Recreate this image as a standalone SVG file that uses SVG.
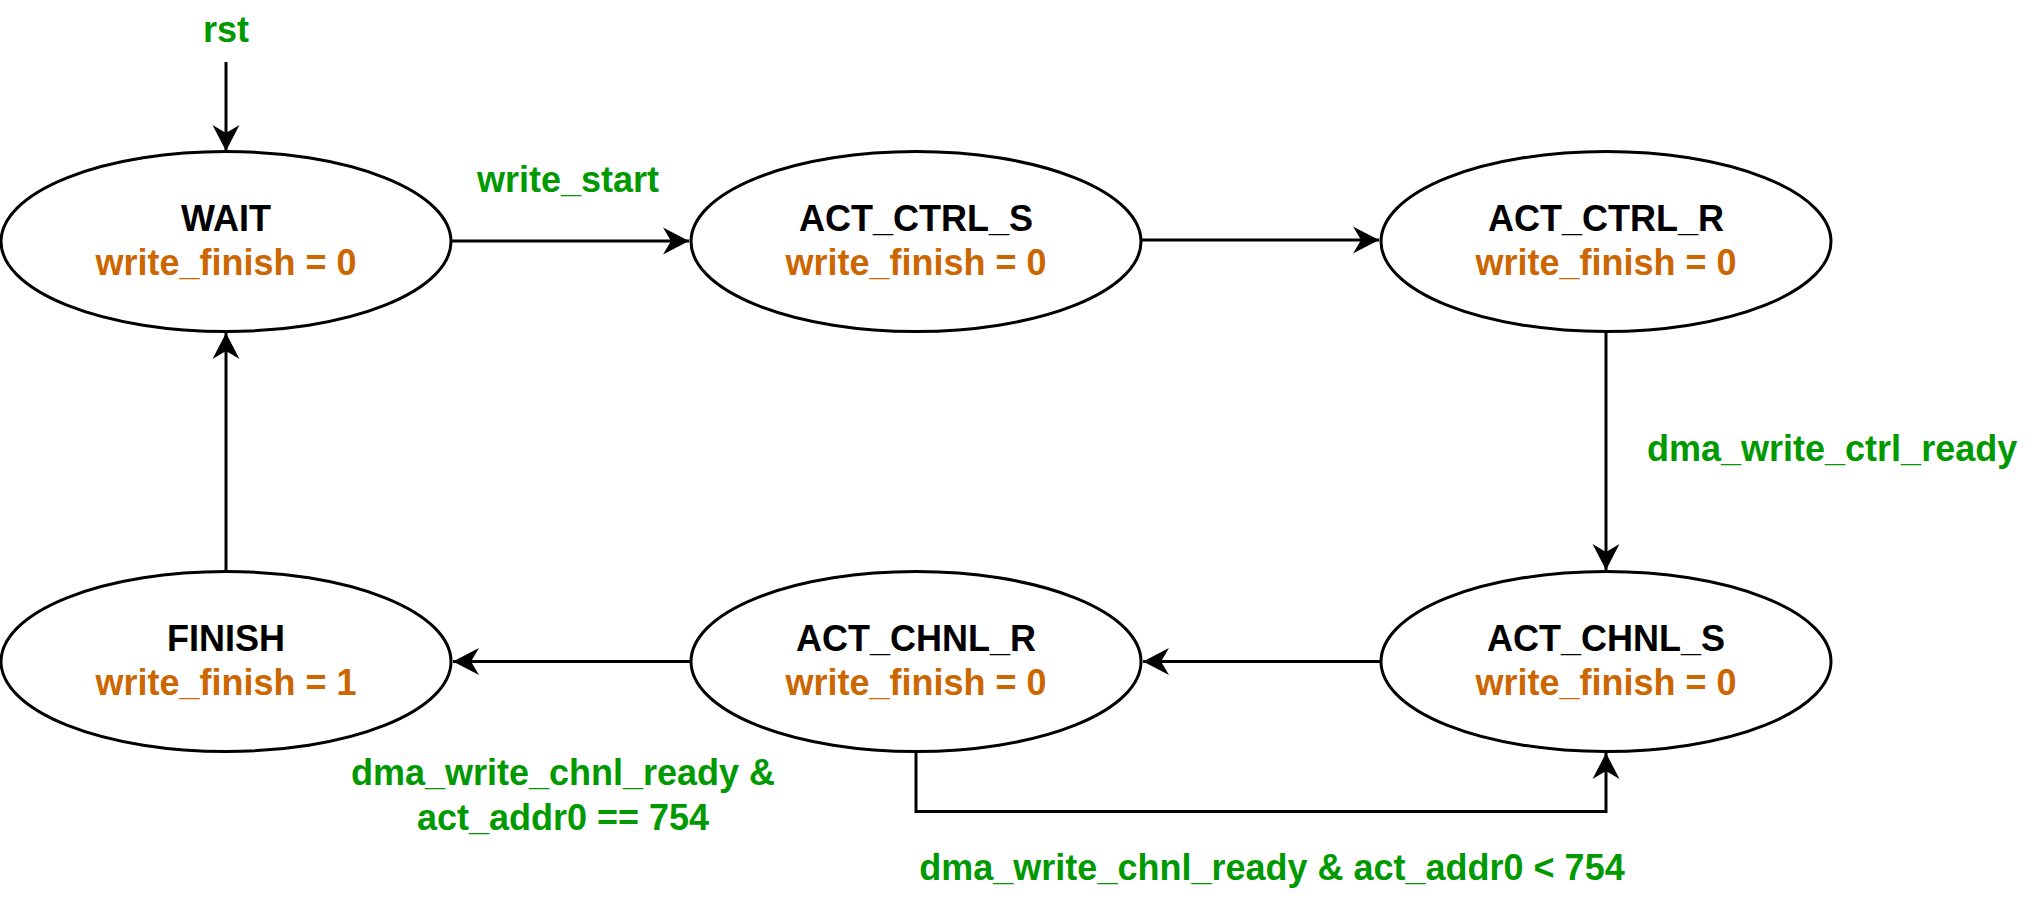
<svg xmlns="http://www.w3.org/2000/svg" width="2043" height="903" viewBox="0 0 2043 903">
  <style>
    .st { fill: #ffffff; stroke: #000000; stroke-width: 3; }
    .t { font-family: "Liberation Sans", Arial, sans-serif; font-size: 36px; font-weight: bold; text-anchor: middle; }
    .name { fill: #000000; }
    .val { fill: #CC6600; }
    .lbl { fill: #009900; }
    .edge { fill: none; stroke: #000000; stroke-width: 3; marker-end: url(#arr); }
  </style>
  <defs>
    <marker id="arr" markerUnits="userSpaceOnUse" markerWidth="40" markerHeight="40" viewBox="-30 -20 40 40" refX="0" refY="0" orient="auto">
      <path d="M0,0 L-26,-13.5 L-18,0 L-26,13.5 Z" fill="#000000" stroke="none"/>
    </marker>
  </defs>
  <rect x="0" y="0" width="2043" height="903" fill="#ffffff"/>

  <g id="connectors">
    <line class="edge" x1="226" y1="62" x2="226" y2="151"/>
    <line class="edge" x1="451" y1="241" x2="689" y2="241"/>
    <line class="edge" x1="1141" y1="240" x2="1379" y2="240"/>
    <line class="edge" x1="1606" y1="331.5" x2="1606" y2="570"/>
    <line class="edge" x1="1381" y1="661.5" x2="1143" y2="661.5"/>
    <line class="edge" x1="691" y1="661.5" x2="453" y2="661.5"/>
    <line class="edge" x1="226" y1="571.5" x2="226" y2="333"/>
    <polyline class="edge" points="916,751.5 916,811.5 1606,811.5 1606,753"/>
    <text class="t lbl" x="226" y="42">rst</text>
    <text class="t lbl" x="568" y="192">write_start</text>
    <text class="t lbl" x="1647" y="461" style="text-anchor:start">dma_write_ctrl_ready</text>
    <text class="t lbl" x="563" y="785">dma_write_chnl_ready &amp;</text>
    <text class="t lbl" x="563" y="830">act_addr0 == 754</text>
    <text class="t lbl" x="1272" y="880">dma_write_chnl_ready &amp; act_addr0 &lt; 754</text>
  </g>

  <g id="WAIT">
    <ellipse class="st" cx="226" cy="241.5" rx="225" ry="90"/>
    <text class="t name" x="226" y="231">WAIT</text>
    <text class="t val" x="226" y="275">write_finish = 0</text>
  </g>
  <g id="ACT_CTRL_S">
    <ellipse class="st" cx="916" cy="241.5" rx="225" ry="90"/>
    <text class="t name" x="916" y="231">ACT_CTRL_S</text>
    <text class="t val" x="916" y="275">write_finish = 0</text>
  </g>
  <g id="ACT_CTRL_R">
    <ellipse class="st" cx="1606" cy="241.5" rx="225" ry="90"/>
    <text class="t name" x="1606" y="231">ACT_CTRL_R</text>
    <text class="t val" x="1606" y="275">write_finish = 0</text>
  </g>
  <g id="FINISH">
    <ellipse class="st" cx="226" cy="661.5" rx="225" ry="90"/>
    <text class="t name" x="226" y="651">FINISH</text>
    <text class="t val" x="226" y="695">write_finish = 1</text>
  </g>
  <g id="ACT_CHNL_R">
    <ellipse class="st" cx="916" cy="661.5" rx="225" ry="90"/>
    <text class="t name" x="916" y="651">ACT_CHNL_R</text>
    <text class="t val" x="916" y="695">write_finish = 0</text>
  </g>
  <g id="ACT_CHNL_S">
    <ellipse class="st" cx="1606" cy="661.5" rx="225" ry="90"/>
    <text class="t name" x="1606" y="651">ACT_CHNL_S</text>
    <text class="t val" x="1606" y="695">write_finish = 0</text>
  </g>
</svg>
